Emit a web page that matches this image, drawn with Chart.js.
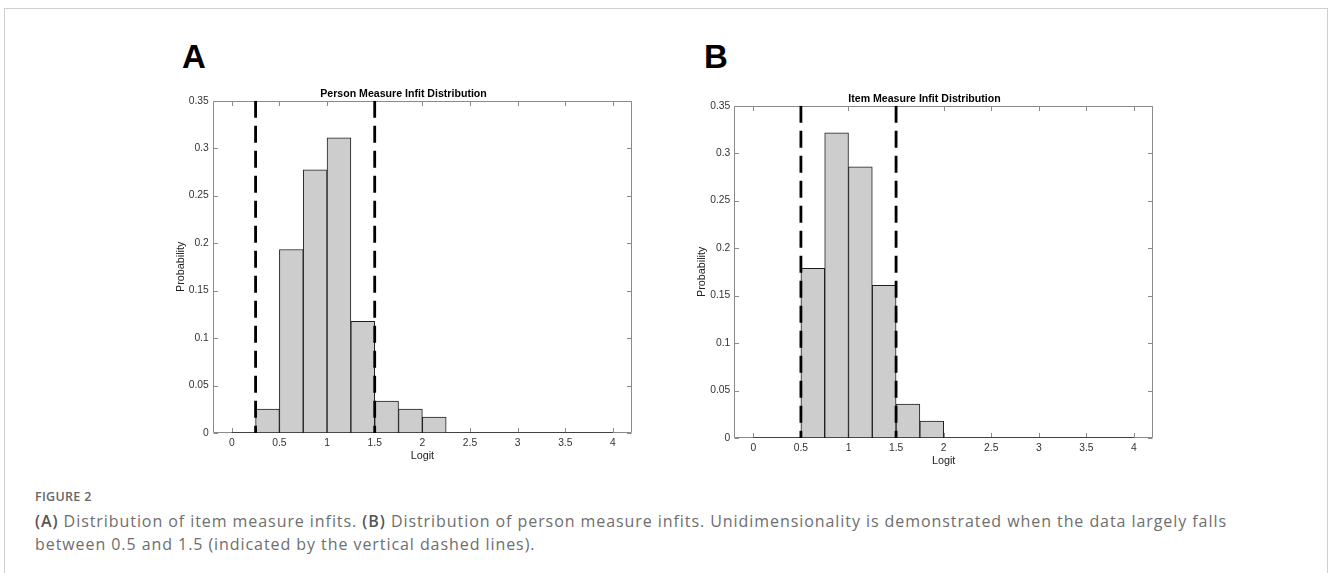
<!DOCTYPE html>
<html>
<head>
<meta charset="utf-8">
<script src="https://cdn.jsdelivr.net/npm/chart.js@4.4.1/dist/chart.umd.min.js"></script>
<style>
  body { margin: 0; width: 1330px; height: 573px; overflow: hidden; background: #fff; position: relative; }
  .frame { position: absolute; left: 4px; top: 8px; width: 1322px; height: 640px; border: 1px solid #cfcfcf; }
  .panel-letter { position: absolute; font-family: "Liberation Sans", Arial, sans-serif; font-weight: bold;
                  font-size: 33px; line-height: 33px; color: #000; }
  canvas { position: absolute; }
  .fig-label { position: absolute; left: 35px; top: 488px; font-family: "Open Sans", Lato, sans-serif;
               font-weight: 600; font-size: 12.5px; color: #666; letter-spacing: 0.3px; }
  .caption { position: absolute; left: 35px; top: 510px; font-family: "Open Sans", Lato, sans-serif;
             font-size: 16px; line-height: 23px; color: #6e6e6e; white-space: nowrap; }
  .caption b { color: #555; font-weight: 600; }
</style>
</head>
<body>
<div class="frame"></div>
<div class="panel-letter" style="left:182px; top:40px;">A</div>
<div class="panel-letter" style="left:704px; top:40px;">B</div>
<canvas id="chartA" width="460" height="375" style="left:175px; top:88px;"></canvas>
<canvas id="chartB" width="460" height="375" style="left:696px; top:93px;"></canvas>
<div class="fig-label">FIGURE 2</div>
<div class="caption"><span id="capLine1"><b>(A)</b> Distribution of item measure infits. <b>(B)</b> Distribution of person measure infits. Unidimensionality is demonstrated when the data largely falls</span><br><span id="capLine2">between 0.5 and 1.5 (indicated by the vertical dashed lines).</span></div>

<script>
// Bords des classes de l'histogramme (logit)
const binEdges = [0, 0.25, 0.5, 0.75, 1, 1.25, 1.5, 1.75, 2, 2.25, 2.5, 2.75, 3, 3.25, 3.5, 3.75, 4];

// Probabilités par classe
const personProb = [0, 0.0252, 0.1933, 0.2773, 0.3109, 0.1176, 0.0336, 0.0252, 0.0168, 0, 0, 0, 0, 0, 0, 0];
const itemProb = [0, 0, 0.1786, 0.3214, 0.2857, 0.1607, 0.0357, 0.0179, 0, 0, 0, 0, 0, 0, 0, 0];

// Lignes verticales en pointillés
const personCutoffs = [0.25, 1.5];
const itemCutoffs = [0.5, 1.5];

// Graduations
const xTicks = [0, 0.5, 1, 1.5, 2, 2.5, 3, 3.5, 4];
const xTickLabels = ['0', '0.5', '1', '1.5', '2', '2.5', '3', '3.5', '4'];
const yTicks = [0, 0.05, 0.1, 0.15, 0.2, 0.25, 0.3, 0.35];
const yTickLabels = ['0', '0.05', '0.1', '0.15', '0.2', '0.25', '0.3', '0.35'];

const fontFamily = '"Liberation Sans", Arial, Helvetica, sans-serif';

// Cadre et graduations intérieures façon MATLAB
const boxPlugin = {
    id: 'matlabBox',
    beforeDatasetsDraw(chart) {
        const ctx = chart.ctx;
        const a = chart.chartArea;
        const xs = chart.scales.x;
        const ys = chart.scales.y;
        const tick = 4.5;
        const l = Math.round(a.left) + 0.5, r = Math.round(a.right) - 0.5;
        const t = Math.round(a.top) + 0.5, b = Math.round(a.bottom) - 0.5;
        ctx.save();
        ctx.strokeStyle = '#8a8a8a';
        ctx.lineWidth = 1;
        ctx.beginPath();
        ctx.rect(l, t, r - l, b - t);
        xTicks.forEach(function(v) {
            const px = Math.round(xs.getPixelForValue(v)) + 0.5;
            ctx.moveTo(px, b);
            ctx.lineTo(px, b - tick);
            ctx.moveTo(px, t);
            ctx.lineTo(px, t + tick);
        });
        yTicks.forEach(function(v) {
            const py = Math.round(ys.getPixelForValue(v)) + 0.5;
            ctx.moveTo(l, py);
            ctx.lineTo(l + tick, py);
            ctx.moveTo(r, py);
            ctx.lineTo(r - tick, py);
        });
        ctx.stroke();
        ctx.restore();
    }
};

function makeChart(canvasId, titleText, probs, cutoffs, yAxisWidth) {
    const bars = [];
    probs.forEach(function(p, i) {
        if (p > 0) {
            bars.push({ x: (binEdges[i] + binEdges[i + 1]) / 2, y: p });
        }
    });

    const datasets = [{
        type: 'bar',
        data: bars,
        backgroundColor: '#cdcdcd',
        borderColor: '#1e1e1e',
        borderWidth: 1,
        borderSkipped: false,
        barPercentage: 1,
        categoryPercentage: 1,
        order: 1
    }, {
        type: 'line',
        data: [{ x: binEdges[0], y: 0 }, { x: binEdges[binEdges.length - 1], y: 0 }],
        borderColor: '#2a2a2a',
        borderWidth: 1.5,
        pointRadius: 0,
        order: 2
    }];

    cutoffs.forEach(function(c) {
        datasets.push({
            type: 'line',
            data: [{ x: c, y: yTicks[yTicks.length - 1] }, { x: c, y: 0 }],
            borderColor: '#000',
            borderWidth: 2.8,
            borderDash: [17, 8],
            pointRadius: 0,
            order: 0
        });
    });

    return new Chart(document.getElementById(canvasId), {
        type: 'bar',
        data: { datasets: datasets },
        options: {
            responsive: false,
            animation: false,
            devicePixelRatio: 1,
            layout: { padding: { left: 0, top: 0, bottom: 0, right: 3 } },
            plugins: {
                legend: { display: false },
                tooltip: { enabled: false },
                title: {
                    display: true,
                    text: titleText,
                    color: '#000',
                    font: { family: fontFamily, size: 10.6, weight: 'bold' },
                    padding: { top: 0, bottom: 0 }
                }
            },
            scales: {
                x: {
                    type: 'linear',
                    min: -0.2,
                    max: 4.2,
                    offset: false,
                    grid: { display: false, drawTicks: false },
                    border: { display: false },
                    afterBuildTicks: function(scale) {
                        scale.ticks = xTicks.map(function(v) { return { value: v }; });
                    },
                    afterFit: function(scale) { scale.height = 30; },
                    ticks: {
                        autoSkip: false,
                        maxRotation: 0,
                        padding: 4,
                        color: '#333',
                        font: { family: fontFamily, size: 10.3 },
                        callback: function(v, i) { return xTickLabels[i]; }
                    },
                    title: {
                        display: true,
                        text: 'Logit',
                        color: '#222',
                        padding: 0,
                        font: { family: fontFamily, size: 10.8 }
                    }
                },
                y: {
                    type: 'linear',
                    min: 0,
                    max: 0.35,
                    grid: { display: false, drawTicks: false },
                    border: { display: false },
                    afterBuildTicks: function(scale) {
                        scale.ticks = yTicks.map(function(v) { return { value: v }; });
                    },
                    afterFit: function(scale) { scale.width = yAxisWidth; },
                    ticks: {
                        autoSkip: false,
                        padding: 4,
                        color: '#333',
                        font: { family: fontFamily, size: 10.3 },
                        callback: function(v, i) { return yTickLabels[i]; }
                    },
                    title: {
                        display: true,
                        text: 'Probability',
                        color: '#222',
                        padding: 0,
                        font: { family: fontFamily, size: 10.8 }
                    }
                }
            }
        },
        plugins: [boxPlugin]
    });
}

// Ajuster l'espacement des lettres de la légende pour que la 1re ligne finisse au bon endroit
function fitCaption() {
    const line1 = document.getElementById('capLine1');
    const cap = document.querySelector('.caption');
    const w = line1.getBoundingClientRect().width;
    const n = line1.textContent.length;
    const target = 1192;
    cap.style.letterSpacing = ((target - w) / n).toFixed(3) + 'px';
}

document.addEventListener('DOMContentLoaded', function() {
    makeChart('chartA', 'Person Measure Infit Distribution', personProb, personCutoffs, 37.7);
    makeChart('chartB', 'Item Measure Infit Distribution', itemProb, itemCutoffs, 38.3);
    fitCaption();
});
</script>
</body>
</html>
